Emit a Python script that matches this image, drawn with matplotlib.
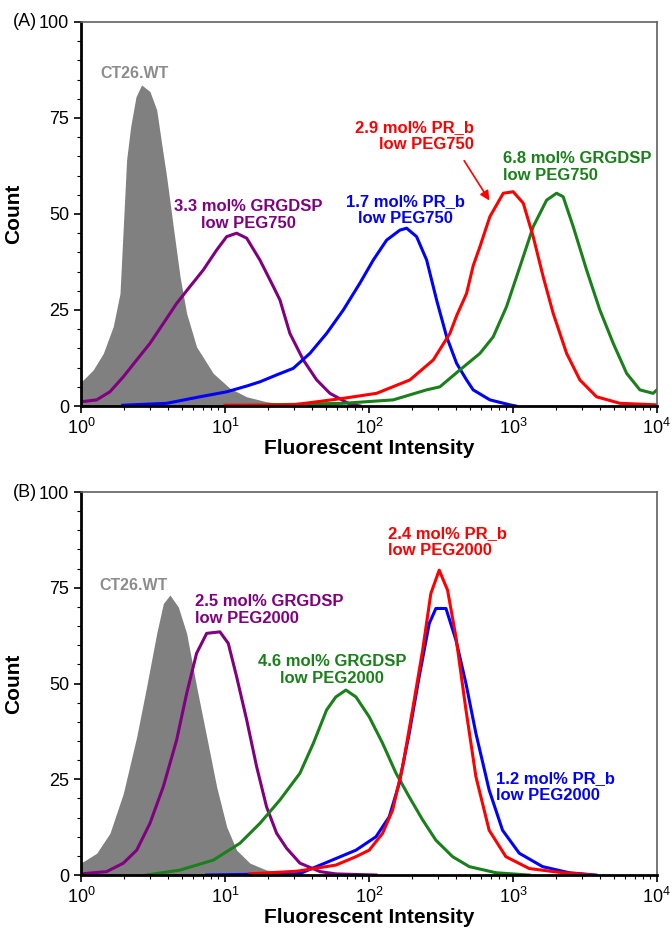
import numpy as np
import matplotlib
matplotlib.use('Agg')
from matplotlib import pyplot as plt
from matplotlib.ticker import MultipleLocator, LogLocator, NullFormatter

plt.rcParams['font.family'] = ['Liberation Sans', 'DejaVu Sans']

# ---panel A (log10 intensity, count)---
a_ct26_x = [0.0, 0.016, 0.085, 0.155, 0.224, 0.271, 0.294, 0.317, 0.345, 0.382, 0.421,
            0.479, 0.526, 0.56, 0.595, 0.641, 0.688, 0.734, 0.803, 0.919, 1.035,
            1.151, 1.289, 1.382, 1.55]
a_ct26_y = [6.5, 6.8, 9.4, 13.7, 20.7, 29.3, 46.7, 64.1, 72.7, 80.5, 83.6,
            81.9, 77.1, 68.4, 59.7, 46.7, 33.7, 24.1, 15.4, 8.5, 4.6,
            2.4, 1.1, 0.7, 0.0]

a_grgdsp33_x = [0.0, 0.109, 0.201, 0.294, 0.387, 0.479, 0.572, 0.664, 0.757, 0.849, 0.942,
                1.012, 1.081, 1.151, 1.243, 1.336, 1.382, 1.451, 1.544, 1.637, 1.729,
                1.861, 1.94]
a_grgdsp33_y = [1.1, 1.6, 3.7, 7.6, 12.0, 16.3, 21.5, 26.7, 31.1, 35.4, 40.6,
                44.1, 45.0, 43.7, 38.0, 31.1, 27.6, 18.9, 12.0, 6.8, 3.3,
                0.6, 0.0]

a_prb17_x = [0.29, 0.595, 0.826, 1.012, 1.151, 1.243, 1.359, 1.474, 1.59, 1.706, 1.822,
             1.9375, 2.03, 2.123, 2.215, 2.262, 2.331, 2.401, 2.47, 2.54, 2.609,
             2.678, 2.724, 2.84, 2.979, 3.02]
a_prb17_y = [0.2, 0.7, 2.4, 3.7, 5.2, 6.3, 8.1, 9.8, 13.7, 18.9, 25.0,
             32.0, 38.0, 43.2, 45.8, 46.3, 44.1, 38.0, 27.6, 18.0, 11.1,
             6.8, 4.2, 1.6, 0.3, 0.0]

a_prb29_x = [1.0, 1.474, 1.822, 2.053, 2.285, 2.447, 2.5625, 2.609, 2.678, 2.724, 2.771,
             2.84, 2.933, 3.002, 3.072, 3.141, 3.21, 3.28, 3.373, 3.465, 3.581,
             3.743, 4.0]
a_prb29_y = [0.2, 0.3, 2.0, 3.3, 6.8, 12.0, 18.9, 23.5, 29.3, 36.5, 41.5,
             49.3, 55.4, 55.8, 52.8, 44.1, 33.7, 24.1, 13.7, 6.8, 2.4,
             0.7, 0.3]

a_grgdsp68_x = [1.3, 1.822, 2.169, 2.4, 2.493, 2.632, 2.771, 2.863, 2.956, 3.049, 3.141,
                3.234, 3.303, 3.349, 3.419, 3.512, 3.604, 3.697, 3.79, 3.882, 3.974, 4.0]
a_grgdsp68_y = [0.3, 0.7, 1.6, 4.2, 5.0, 9.4, 13.7, 18.0, 25.9, 36.3, 46.7,
                53.6, 55.4, 54.5, 46.7, 35.4, 25.0, 16.3, 8.5, 4.2, 3.3, 4.2]

# ---panel B---
b_ct26_x = [0.0, 0.016, 0.109, 0.201, 0.294, 0.387, 0.456, 0.526, 0.572, 0.618, 0.676,
            0.734, 0.803, 0.873, 0.942, 1.012, 1.081, 1.174, 1.289, 1.382, 1.55]
b_ct26_y = [3.4, 3.5, 5.7, 10.9, 21.3, 36.1, 49.2, 63.1, 70.9, 73.1, 70.0,
            63.1, 49.2, 36.1, 23.1, 12.6, 6.5, 3.1, 1.3, 0.9, 0.0]

b_grgdsp25_x = [0.0, 0.178, 0.294, 0.387, 0.479, 0.572, 0.664, 0.734, 0.803, 0.873, 0.965,
                1.023, 1.081, 1.151, 1.22, 1.289, 1.359, 1.428, 1.521, 1.66, 1.77, 2.05]
b_grgdsp25_y = [0.3, 0.9, 3.1, 6.5, 13.5, 23.1, 35.2, 47.4, 57.9, 63.1, 63.5,
                60.5, 51.8, 40.5, 28.3, 17.8, 10.9, 7.0, 3.1, 0.9, 0.3, 0.0]

b_grgdsp46_x = [0.456, 0.6875, 0.919, 1.104, 1.243, 1.382, 1.521, 1.614, 1.706, 1.77,
                1.84, 1.91, 2.002, 2.095, 2.188, 2.28, 2.373, 2.465, 2.581, 2.697, 2.882, 3.113]
b_grgdsp46_y = [0.0, 1.3, 3.9, 8.3, 13.5, 19.6, 26.6, 34.4, 43.1, 46.5,
                48.3, 46.5, 41.3, 34.4, 26.6, 20.4, 14.4, 9.1, 4.8, 2.2, 0.6, 0.0]

b_prb24_x = [1.174, 1.5, 1.77, 1.91, 2.002, 2.095, 2.165, 2.234, 2.303, 2.373, 2.43,
             2.488, 2.546, 2.604, 2.674, 2.743, 2.835, 2.951, 3.113, 3.345, 3.553]
b_prb24_y = [0.3, 1.0, 2.6, 4.8, 6.5, 10.9, 17.0, 28.3, 43.1, 58.7, 73.5,
             79.6, 74.4, 62.2, 43.1, 25.7, 11.7, 4.8, 1.7, 0.6, 0.0]

b_prb12_x = [0.873, 1.521, 1.77, 1.91, 2.049, 2.141, 2.21, 2.28, 2.349, 2.419, 2.465,
             2.535, 2.604, 2.674, 2.743, 2.835, 2.928, 3.044, 3.206, 3.391, 3.576]
b_prb12_y = [0.0, 0.4, 4.3, 6.5, 10.0, 15.2, 23.9, 37.0, 51.8, 65.7, 69.6,
             69.6, 61.4, 50.0, 37.0, 22.2, 11.7, 5.7, 2.2, 0.6, 0.0]

GRAY = '#808080'
PURPLE = '#800080'
BLUE = '#0000ff'
RED = '#ff0000'
GREEN = '#1a801a'
LABEL_GRAY = '#8c8c8c'


def style_axes(ax, tag):
    ax.set_xscale('log')
    ax.set_xlim(1, 1e4)
    ax.set_ylim(0, 100)
    ax.set_yticks([0, 25, 50, 75, 100])
    ax.yaxis.set_minor_locator(MultipleLocator(5))
    ax.xaxis.set_minor_locator(LogLocator(base=10, subs=np.arange(2, 10)))
    ax.xaxis.set_minor_formatter(NullFormatter())
    ax.tick_params(which='major', direction='out', length=5, width=1.2, labelsize=13, colors='black')
    ax.tick_params(which='minor', direction='out', length=3, width=0.8)
    for s in ['left', 'bottom']:
        ax.spines[s].set_linewidth(2)
        ax.spines[s].set_color('black')
    for s in ['top', 'right']:
        ax.spines[s].set_linewidth(1.2)
        ax.spines[s].set_color('#606060')
    ax.set_xlabel('Fluorescent Intensity', fontsize=15, fontweight='bold', labelpad=1)
    ax.set_ylabel('Count', fontsize=15, fontweight='bold')
    ax.yaxis.set_label_coords(-0.1, 0.5)
    ax.text(-0.118, 1.0, tag, transform=ax.transAxes, fontsize=13, ha='left', va='center')


def hist(ax, xs, ys, color, fill=False):
    x = 10 ** np.asarray(xs)
    if fill:
        ax.fill_between(x, ys, 0, color=color, lw=0, zorder=1)
    else:
        ax.plot(x, ys, color=color, lw=2.2, zorder=2)


fig = plt.figure(figsize=(6.72, 9.31), dpi=100)
axA = fig.add_axes([0.1205, 0.5639, 0.857, 0.4125])
axB = fig.add_axes([0.1205, 0.0601, 0.857, 0.4114])

# (A)
hist(axA, a_ct26_x, a_ct26_y, GRAY, fill=True)
hist(axA, a_grgdsp33_x, a_grgdsp33_y, PURPLE)
hist(axA, a_prb17_x, a_prb17_y, BLUE)
hist(axA, a_grgdsp68_x, a_grgdsp68_y, GREEN)
hist(axA, a_prb29_x, a_prb29_y, RED)
style_axes(axA, '(A)')

kw = dict(fontsize=12, fontweight='bold', linespacing=1.15)
ct_kw = dict(color=LABEL_GRAY, ha='center', va='center', fontsize=11.5, fontweight='bold')
axA.text(10 ** 0.375, 86.7, 'CT26.WT', **ct_kw)
axA.text(10 ** 1.16, 49.7, '3.3 mol% GRGDSP\nlow PEG750', color=PURPLE, ha='center', va='center', multialignment='center', **kw)
axA.text(10 ** 2.257, 51.0, '1.7 mol% PR_b\nlow PEG750', color=BLUE, ha='center', va='center', multialignment='center', **kw)
axA.text(10 ** 2.729, 70.3, '2.9 mol% PR_b\nlow PEG750', color=RED, ha='right', va='center', multialignment='right', **kw)
axA.text(10 ** 2.928, 62.3, '6.8 mol% GRGDSP\nlow PEG750', color=GREEN, ha='left', va='center', multialignment='left', **kw)
axA.annotate('', xy=(10 ** 2.847, 52.9), xytext=(10 ** 2.651, 64.5),
             arrowprops=dict(arrowstyle='-|>', color=RED, lw=1.2, mutation_scale=14))

# (B)
hist(axB, b_ct26_x, b_ct26_y, GRAY, fill=True)
hist(axB, b_grgdsp25_x, b_grgdsp25_y, PURPLE)
hist(axB, b_grgdsp46_x, b_grgdsp46_y, GREEN)
hist(axB, b_prb12_x, b_prb12_y, BLUE)
hist(axB, b_prb24_x, b_prb24_y, RED)
style_axes(axB, '(B)')

axB.text(10 ** 0.363, 75.7, 'CT26.WT', **ct_kw)
axB.text(10 ** 0.79, 69.2, '2.5 mol% GRGDSP\nlow PEG2000', color=PURPLE, ha='left', va='center', multialignment='left', **kw)
axB.text(10 ** 1.745, 53.5, '4.6 mol% GRGDSP\nlow PEG2000', color=GREEN, ha='center', va='center', multialignment='center', **kw)
axB.text(10 ** 2.13, 87.0, '2.4 mol% PR_b\nlow PEG2000', color=RED, ha='left', va='center', multialignment='left', **kw)
axB.text(10 ** 2.882, 23.0, '1.2 mol% PR_b\nlow PEG2000', color=BLUE, ha='left', va='center', multialignment='left', **kw)

plt.savefig('out.png', dpi=100)
plt.close()
